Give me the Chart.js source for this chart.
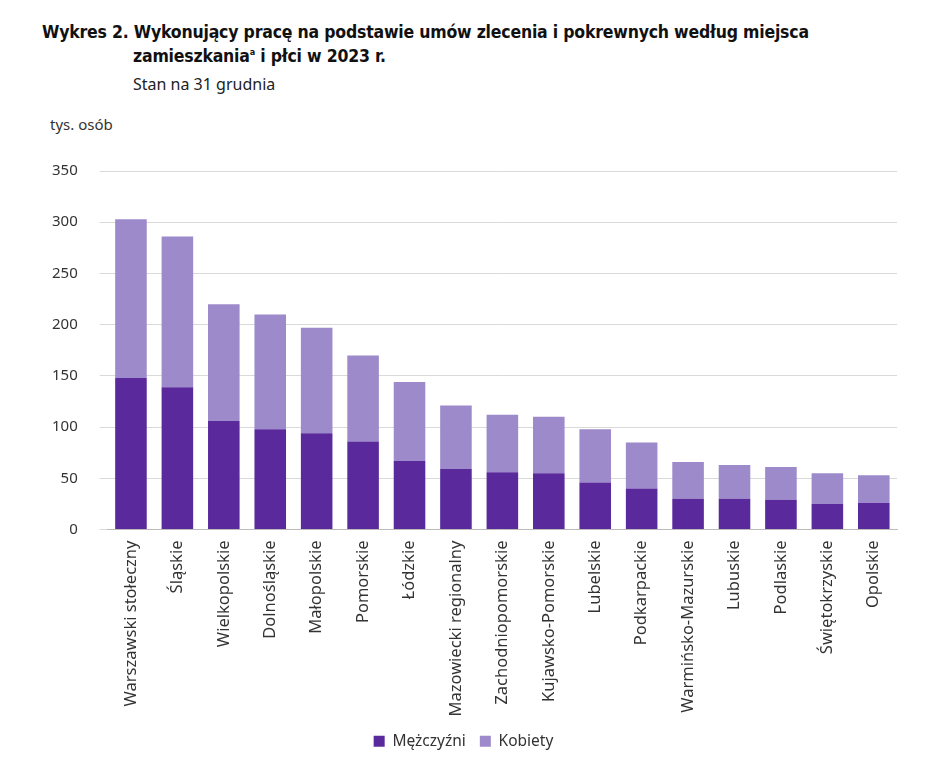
<!DOCTYPE html>
<html>
<head>
<meta charset="utf-8">
<script src="https://cdn.jsdelivr.net/npm/chart.js@4/dist/chart.umd.min.js"></script>
<style>
  body { margin: 0; background: #fff; font-family: "Noto Sans", sans-serif; width: 948px; height: 759px; overflow: hidden; position: relative; }
  .t1 { position: absolute; left: 42px; top: 22px; font-size: 17.5px; font-weight: bold; color: #111; font-family: "DejaVu Sans Condensed", "Noto Sans", sans-serif; letter-spacing: -0.2px; }
  .t2 { position: absolute; left: 133px; top: 46px; font-size: 17.5px; font-weight: bold; color: #111; font-family: "DejaVu Sans Condensed", "Noto Sans", sans-serif; letter-spacing: -0.2px; }
  .t3 { position: absolute; left: 133px; top: 73px; font-size: 16px; color: #222; }
  .unit { position: absolute; left: 50px; top: 114px; font-size: 15px; color: #333; }
  .wrap { position: absolute; left: 30px; top: 140px; width: 870px; height: 619px; }
</style>
</head>
<body>
<div class="t1">Wykres 2. Wykonujący pracę na podstawie umów zlecenia i pokrewnych według miejsca</div>
<div class="t2">zamieszkania<sup style="font-size:9px">a</sup> i płci w 2023 r.</div>
<div class="t3">Stan na 31 grudnia</div>
<div class="unit">tys. osób</div>
<div class="wrap"><canvas id="c"></canvas></div>
<script>
const categories = ['Warszawski stołeczny', 'Śląskie', 'Wielkopolskie', 'Dolnośląskie', 'Małopolskie', 'Pomorskie', 'Łódzkie', 'Mazowiecki regionalny', 'Zachodniopomorskie', 'Kujawsko-Pomorskie', 'Lubelskie', 'Podkarpackie', 'Warmińsko-Mazurskie', 'Lubuskie', 'Podlaskie', 'Świętokrzyskie', 'Opolskie'];
const men =   [148, 139, 106, 98, 94, 86, 67, 59, 56, 55, 46, 40, 30, 30, 29, 25, 26];
const women = [155, 147, 114, 112, 103, 84, 77, 62, 56, 55, 52, 45, 36, 33, 32, 30, 27];
const yTicks = [0, 50, 100, 150, 200, 250, 300, 350];

new Chart(document.getElementById('c'), {
    type: 'bar',
    data: {
        labels: categories,
        datasets: [
            { label: 'Mężczyźni', data: men, backgroundColor: '#5a2a9c', categoryPercentage: 0.68, barPercentage: 1 },
            { label: 'Kobiety', data: women, backgroundColor: '#9c8acb', categoryPercentage: 0.68, barPercentage: 1 }
        ]
    },
    options: {
        responsive: true,
        maintainAspectRatio: false,
        animation: false,
        layout: { padding: { top: 10, right: 3 } },
        plugins: {
            legend: {
                position: 'bottom',
                labels: { color: '#333', font: { size: 15.5, family: 'Noto Sans' }, boxWidth: 11, boxHeight: 11, padding: 14 }
            },
            tooltip: { enabled: false }
        },
        scales: {
            x: {
                stacked: true,
                grid: { display: false },
                border: { color: '#bbb' },
                ticks: { color: '#333', font: { size: 16.5, family: 'Noto Sans' }, maxRotation: 90, minRotation: 90 }
            },
            y: {
                stacked: true,
                min: 0, max: 350,
                afterBuildTicks: axis => { axis.ticks = yTicks.map(v => ({ value: v })); },
                grid: { color: '#d9d9d9' },
                border: { display: false },
                ticks: { color: '#333', font: { size: 15, family: 'Noto Sans' }, padding: 22 }
            }
        }
    }
});
</script>
</body>
</html>
